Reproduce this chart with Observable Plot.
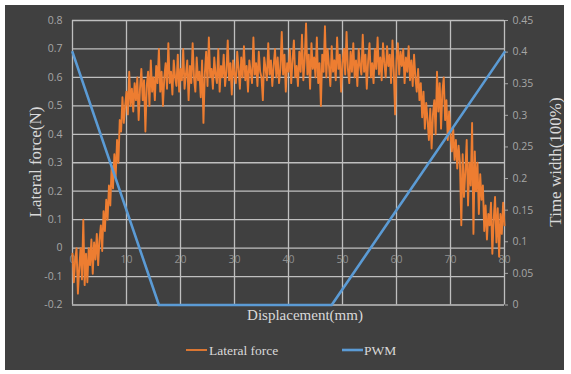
<!DOCTYPE html>
<html>
<head>
<meta charset="utf-8">
<script src="https://cdn.jsdelivr.net/npm/d3@7"></script>
<script src="https://cdn.jsdelivr.net/npm/@observablehq/plot@0.6"></script>
<style>
  html, body { margin: 0; padding: 0; background: #ffffff; }
  #wrap { position: relative; width: 571px; height: 374px; overflow: hidden; }
  #bg { position: absolute; left: 5px; top: 5px; width: 559px; height: 365px; background: #404040; }
  #chart { position: absolute; left: 0; top: 0; }
</style>
</head>
<body>
<div id="wrap"><div id="bg"></div><div id="chart"></div></div>
<script>
// ---- data ----
const xStep = 0.25; // mm between force samples
const lateralForce = [
  -0.02, -0.12, -0.04, 0.00, -0.16, -0.07, 0.00, -0.11,
  0.10, -0.13, -0.02, -0.12, 0.00, -0.06, 0.03, -0.09,
  0.02, -0.04, 0.05, -0.06, 0.03, 0.08, -0.01, 0.13,
  0.06, 0.17, 0.10, 0.22, 0.15, 0.29, 0.21, 0.33,
  0.25, 0.38, 0.30, 0.45, 0.41, 0.53, 0.44, 0.50,
  0.55, 0.47, 0.62, 0.50, 0.56, 0.48, 0.58, 0.52,
  0.60, 0.45, 0.56, 0.63, 0.52, 0.59, 0.41, 0.57,
  0.62, 0.50, 0.66, 0.55, 0.60, 0.52, 0.64, 0.58,
  0.70, 0.55, 0.62, 0.50, 0.60, 0.65, 0.56, 0.72,
  0.58, 0.62, 0.54, 0.66, 0.60, 0.57, 0.68, 0.55,
  0.63, 0.59, 0.70, 0.56, 0.61, 0.66, 0.52, 0.64,
  0.58, 0.72, 0.60, 0.55, 0.67, 0.59, 0.62, 0.53,
  0.66, 0.44, 0.61, 0.69, 0.57, 0.74, 0.60, 0.63,
  0.56, 0.67, 0.61, 0.58, 0.70, 0.55, 0.64, 0.60,
  0.68, 0.57, 0.62, 0.73, 0.59, 0.65, 0.54, 0.66,
  0.61, 0.58, 0.69, 0.63, 0.56, 0.67, 0.60, 0.71,
  0.59, 0.64, 0.55, 0.66, 0.62, 0.58, 0.74, 0.61,
  0.65, 0.57, 0.69, 0.62, 0.60, 0.52, 0.67, 0.63,
  0.59, 0.72, 0.61, 0.66, 0.57, 0.64, 0.70, 0.60,
  0.67, 0.58, 0.63, 0.76, 0.61, 0.68, 0.55, 0.65,
  0.62, 0.70, 0.58, 0.66, 0.73, 0.60, 0.64, 0.57,
  0.69, 0.62, 0.75, 0.59, 0.66, 0.79, 0.61, 0.68,
  0.56, 0.72, 0.63, 0.67, 0.60, 0.74, 0.58, 0.65,
  0.50, 0.68, 0.62, 0.78, 0.60, 0.70, 0.64, 0.57,
  0.71, 0.62, 0.66, 0.59, 0.74, 0.63, 0.68, 0.55,
  0.65, 0.70, 0.61, 0.76, 0.63, 0.58, 0.69, 0.62,
  0.72, 0.60, 0.66, 0.57, 0.70, 0.64, 0.61, 0.75,
  0.62, 0.68, 0.56, 0.66, 0.72, 0.60, 0.65, 0.58,
  0.70, 0.63, 0.74, 0.61, 0.67, 0.59, 0.72, 0.65,
  0.60, 0.71, 0.64, 0.68, 0.58, 0.73, 0.62, 0.47,
  0.66, 0.72, 0.61, 0.69, 0.64, 0.70, 0.58, 0.67,
  0.62, 0.71, 0.59, 0.66, 0.57, 0.68, 0.60, 0.55,
  0.63, 0.52, 0.58, 0.46, 0.55, 0.42, 0.51, 0.45,
  0.38, 0.49, 0.35, 0.47, 0.52, 0.40, 0.62, 0.48,
  0.58, 0.42, 0.55, 0.60, 0.45, 0.52, 0.38, 0.48,
  0.40, 0.34, 0.42, 0.31, 0.38, 0.28, 0.36, 0.30,
  0.08, 0.33, 0.18, 0.27, 0.38, 0.15, 0.30, 0.22,
  0.44, 0.05, 0.34, 0.20, 0.30, 0.12, 0.26, 0.17,
  0.22, 0.06, 0.15, 0.03, 0.12, 0.08, 0.16, -0.02,
  0.10, 0.18, 0.02, 0.14, -0.03, 0.12, 0.05, 0.16,
  0.08
];
const pwmX = [0, 16, 48, 80];
const pwmY = [0.4, 0, 0, 0.4];
const xTicks = [0, 10, 20, 30, 40, 50, 60, 70, 80];
const yTicks = [-0.2, -0.1, 0, 0.1, 0.2, 0.3, 0.4, 0.5, 0.6, 0.7, 0.8];
const rightTicks = [0, 0.05, 0.1, 0.15, 0.2, 0.25, 0.3, 0.35, 0.4, 0.45];
const xTitle = "Displacement(mm)";
const yTitle = "Lateral force(N)";
const y2Title = "Time width(100%)";
const seriesNames = ["Lateral force", "PWM"];
const colors = ["#ED7D31", "#5B9BD5"];

// ---- derived tables ----
const forceData = lateralForce.map((v, i) => ({x: i * xStep, y: v}));
const yMin = -0.2, yMax = 0.8, rMax = 0.45;
const toLeft = v => yMin + v / rMax * (yMax - yMin);
const toRight = d => (d - yMin) / (yMax - yMin) * rMax;
const pwmData = pwmX.map((x, i) => ({x, y: toLeft(pwmY[i])}));

const tickColor = "#a6a6a6";
const gridColor = "#bfbfbf";
const sans = "'Open Sans', 'Noto Sans', sans-serif";
const serif = "'Liberation Serif', 'DejaVu Serif', serif";

const svg = Plot.plot({
  width: 571,
  height: 374,
  marginLeft: 72,
  marginRight: 67,
  marginTop: 20,
  marginBottom: 69.5,
  style: {background: "transparent", fontFamily: sans, fontSize: "10.5px", color: tickColor, overflow: "visible"},
  x: {domain: [0, 80], axis: null},
  y: {domain: [yMin, yMax], axis: null},
  marks: [
    Plot.gridX(xTicks, {stroke: gridColor, strokeOpacity: 1, strokeWidth: 1.3}),
    Plot.gridY(yTicks, {stroke: gridColor, strokeOpacity: 1, strokeWidth: 1.3}),
    Plot.axisY(yTicks, {anchor: "left", tickSize: 0, tickPadding: 10, label: null,
      tickFormat: d => String(Math.round(d * 10) / 10), fill: tickColor}),
    Plot.axisY(rightTicks.map(toLeft), {anchor: "right", tickSize: 3, tickPadding: 5, label: null,
      stroke: tickColor, fill: tickColor,
      tickFormat: d => String(+toRight(d).toFixed(2))}),
    Plot.text(xTicks, {x: d => d, y: () => 0, dy: 12, text: d => String(d),
      fill: "#8f8f8f", fontSize: 10.5, textAnchor: "middle"}),
    Plot.line(forceData, {x: "x", y: "y", stroke: colors[0], strokeWidth: 1.9}),
    Plot.line(pwmData, {x: "x", y: "y", stroke: colors[1], strokeWidth: 2.6})
  ]
});

const s = d3.select(svg);
const titleColor = "#d9d9d9";
s.append("text").attr("x", 305).attr("y", 320).attr("text-anchor", "middle")
  .attr("font-family", serif).attr("font-size", 15).attr("fill", titleColor).text(xTitle);
s.append("text").attr("transform", "translate(41,162) rotate(-90)").attr("text-anchor", "middle")
  .attr("font-family", serif).attr("font-size", 17).attr("fill", titleColor).text(yTitle);
s.append("text").attr("transform", "translate(561,162) rotate(-90)").attr("text-anchor", "middle")
  .attr("font-family", serif).attr("font-size", 17).attr("fill", titleColor).text(y2Title);

// legend
const legendPos = [[186, 209], [342, 364]];
seriesNames.forEach((name, i) => {
  const [lx, tx] = legendPos[i];
  s.append("line").attr("x1", lx).attr("x2", lx + 21).attr("y1", 350).attr("y2", 350)
    .attr("stroke", colors[i]).attr("stroke-width", i === 0 ? 1.8 : 2.6);
  s.append("text").attr("x", tx).attr("y", 355).attr("text-anchor", "start")
    .attr("font-family", serif).attr("font-size", 13.5).attr("fill", titleColor).text(name);
});

document.getElementById("chart").appendChild(svg);
</script>
</body>
</html>
